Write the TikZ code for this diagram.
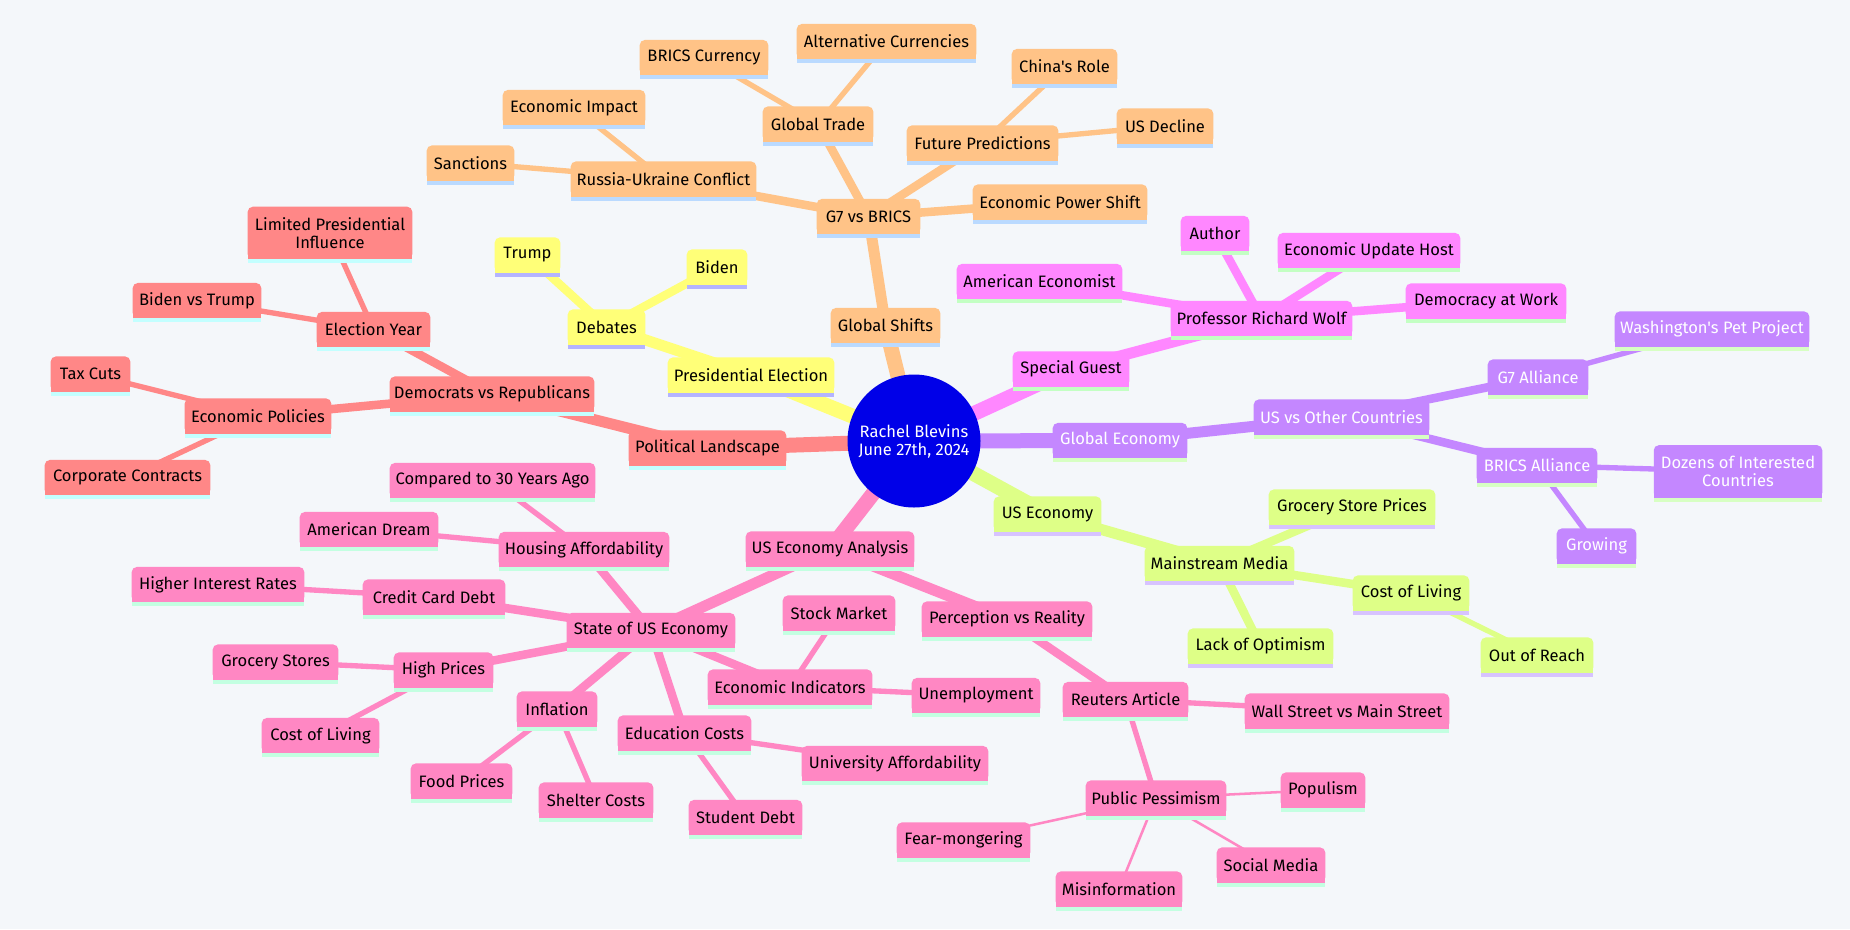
\documentclass[tikz,border=0pt]{standalone}
\usepackage{fontspec}
\setmainfont{Fira Sans}[Ligatures=TeXOff]
\definecolor{bgc}{RGB}{244,247,250}
\definecolor{Ofill}{RGB}{255,195,135}\definecolor{Oline}{RGB}{186,218,255}\colorlet{Otxt}{black}
\definecolor{Yfill}{RGB}{255,255,120}\definecolor{Yline}{RGB}{180,180,255}\colorlet{Ytxt}{black}
\definecolor{Rfill}{RGB}{255,135,135}\definecolor{Rline}{RGB}{195,255,255}\colorlet{Rtxt}{black}
\definecolor{Mfill}{RGB}{255,135,255}\definecolor{Mline}{RGB}{195,255,195}\colorlet{Mtxt}{black}
\definecolor{Pfill}{RGB}{196,135,255}\definecolor{Pline}{RGB}{215,255,195}\colorlet{Ptxt}{white}
\definecolor{Lfill}{RGB}{222,255,135}\definecolor{Lline}{RGB}{215,195,255}\colorlet{Ltxt}{black}
\definecolor{Kfill}{RGB}{255,135,195}\definecolor{Kline}{RGB}{195,255,225}\colorlet{Ktxt}{black}
\definecolor{rootc}{RGB}{0,0,232}
\pgfdeclarelayer{bglayer}\pgfdeclarelayer{edges}\pgfdeclarelayer{boxes}
\pgfsetlayers{bglayer,edges,boxes,main}
\tikzset{
  mmnode/.style={rectangle, inner sep=0pt, minimum height=25.875pt, align=center,
    font=\fontsize{12.4pt}{13.6pt}\selectfont},
  twoline/.style={minimum height=39pt},
  rootnode/.style={circle, fill=rootc, text=white, minimum size=99.75pt, inner sep=0pt,
    align=center, font=\fontsize{12.4pt}{13.6pt}\selectfont},
  eA/.style={line width=11.25pt},
  eB/.style={line width=8.25pt},
  eC/.style={line width=6.4pt},
  eD/.style={line width=4pt},
  eE/.style={line width=1.9pt},
}
% #1 opt, #2 name, #3 section, #4 L, #5 T, #6 R, #7 B, #8 text
\newcommand\mmn[8][]{%
  \node[mmnode, text=#3txt, minimum width={(#6-#4)*0.75pt}, #1] (#2) at ({(#4+#6)/2},{(#5+#7)/2-2}) {#8};
  \begin{pgfonlayer}{boxes}
    \fill[#3fill, rounded corners=3.75pt] (#2.south west) rectangle (#2.north east);
    \fill[#3fill] (#2.south west) rectangle (#2.east);
    \fill[#3line] (#2.south west) rectangle ([yshift=-3pt]#2.south east);
  \end{pgfonlayer}}
\newcommand\mme[4]{\draw[#1, #2fill] (#3.center) -- (#4.center);}
\begin{document}
\begin{tikzpicture}[x=0.75pt, y=-0.75pt]
\begin{pgfonlayer}{bglayer}
\fill[bgc] (0,0) rectangle (1850,929);
\end{pgfonlayer}
\useasboundingbox (0,0) rectangle (1850,929);

\node[rootnode] (root) at (914,441) {Rachel Blevins\\June 27th, 2024};

% orange
\mmn{gs}{O}{831}{308}{940}{347}{Global Shifts}
\mmn{g7}{O}{817}{199}{920}{238}{G7 vs BRICS}
\mmn{ruc}{O}{571}{162}{756}{200}{Russia-Ukraine Conflict}
\mmn{ei}{O}{503}{90}{645}{129}{Economic Impact}
\mmn{san}{O}{427}{146}{514}{184}{Sanctions}
\mmn{gt}{O}{763}{107}{873}{145}{Global Trade}
\mmn{bc}{O}{640}{40}{768}{79}{BRICS Currency}
\mmn{ac}{O}{797}{24}{976}{63}{Alternative Currencies}
\mmn{fp}{O}{907}{126}{1058}{164}{Future Predictions}
\mmn{cr}{O}{1012}{49}{1117}{88}{China's Role}
\mmn{usd}{O}{1117}{109}{1213}{147}{US Decline}
\mmn{eps}{O}{973}{185}{1147}{223}{Economic Power Shift}
% yellow
\mmn{pe}{Y}{668}{357}{834}{397}{Presidential Election}
\mmn{deb}{Y}{568}{310}{645}{348}{Debates}
\mmn{tr}{Y}{495}{238}{560}{276}{Trump}
\mmn{bi}{Y}{687}{250}{747}{288}{Biden}
% red
\mmn{pl}{R}{629}{431}{786}{469}{Political Landscape}
\mmn{dvr}{R}{390}{377}{594}{415}{Democrats vs Republicans}
\mmn{ey}{R}{317}{312}{430}{351}{Election Year}
\mmn[twoline]{lpi}{R}{248}{207}{412}{263}{Limited Presidential\\Influence}
\mmn{bvt}{R}{133}{283}{261}{322}{Biden vs Trump}
\mmn{ep}{R}{185}{399}{331}{437}{Economic Policies}
\mmn{tc}{R}{51}{357}{130}{395}{Tax Cuts}
\mmn{cc}{R}{45}{460}{210}{499}{Corporate Contracts}
% pink
\mmn{uea}{K}{746}{532}{914}{570}{US Economy Analysis}
\mmn{sue}{K}{567}{613}{735}{652}{State of US Economy}
\mmn{ha}{K}{499}{532}{669}{571}{Housing Affordability}
\mmn{cth}{K}{390}{463}{595}{502}{Compared to 30 Years Ago}
\mmn{ad}{K}{300}{512}{438}{551}{American Dream}
\mmn{ccd}{K}{363}{580}{505}{618}{Credit Card Debt}
\mmn{hir}{K}{132}{567}{304}{606}{Higher Interest Rates}
\mmn{hp}{K}{394}{653}{493}{691}{High Prices}
\mmn{gst}{K}{213}{645}{338}{683}{Grocery Stores}
\mmn{colk}{K}{262}{718}{379}{757}{Cost of Living}
\mmn{inf}{K}{517}{692}{597}{730}{Inflation}
\mmn{fop}{K}{411}{764}{512}{802}{Food Prices}
\mmn{shc}{K}{539}{783}{653}{821}{Shelter Costs}
\mmn{edc}{K}{618}{716}{751}{754}{Education Costs}
\mmn{uaf}{K}{802}{747}{988}{784}{University Affordability}
\mmn{sd}{K}{689}{800}{802}{839}{Student Debt}
\mmn{eind}{K}{708}{670}{872}{708}{Economic Indicators}
\mmn{sm}{K}{783}{596}{895}{634}{Stock Market}
\mmn{un}{K}{912}{678}{1040}{717}{Unemployment}
\mmn{pvr}{K}{922}{602}{1092}{640}{Perception vs Reality}
\mmn{ra}{K}{1063}{683}{1188}{720}{Reuters Article}
\mmn{ws}{K}{1245}{694}{1449}{732}{Wall Street vs Main Street}
\mmn{pp}{K}{1086}{781}{1226}{819}{Public Pessimism}
\mmn{fm}{K}{897}{823}{1030}{861}{Fear-mongering}
\mmn{mi}{K}{1056}{872}{1182}{910}{Misinformation}
\mmn{smd}{K}{1217}{848}{1325}{886}{Social Media}
\mmn{pop}{K}{1281}{773}{1365}{811}{Populism}
% lime
\mmn{use}{L}{994}{497}{1101}{535}{US Economy}
\mmn{mm}{L}{1145}{546}{1294}{585}{Mainstream Media}
\mmn{gsp}{L}{1269}{490}{1435}{528}{Grocery Store Prices}
\mmn{coll}{L}{1353}{575}{1469}{615}{Cost of Living}
\mmn{lo}{L}{1188}{629}{1333}{667}{Lack of Optimism}
\mmn{oor}{L}{1481}{638}{1593}{676}{Out of Reach}
% purple
\mmn{ge}{P}{1053}{423}{1187}{462}{Global Economy}
\mmn{uvo}{P}{1254}{400}{1429}{438}{US vs Other Countries}
\mmn{gsa}{P}{1488}{360}{1588}{398}{G7 Alliance}
\mmn{wpp}{P}{1615}{312}{1809}{350}{Washington's Pet Project}
\mmn{bra}{P}{1477}{448}{1597}{487}{BRICS Alliance}
\mmn[twoline]{doz}{P}{1654}{446}{1822}{501}{Dozens of Interested\\Countries}
\mmn{gro}{P}{1557}{529}{1636}{567}{Growing}
% magenta
\mmn{sg}{M}{1013}{352}{1129}{390}{Special Guest}
\mmn{prw}{M}{1171}{301}{1352}{340}{Professor Richard Wolf}
\mmn{ae}{M}{957}{264}{1122}{303}{American Economist}
\mmn{au}{M}{1181}{216}{1249}{255}{Author}
\mmn{euh}{M}{1278}{233}{1460}{272}{Economic Update Host}
\mmn{daw}{M}{1406}{283}{1566}{323}{Democracy at Work}

\begin{pgfonlayer}{edges}
% depth 1
\mme{eA}{O}{root}{gs}
\mme{eA}{Y}{root}{pe}
\mme{eA}{R}{root}{pl}
\mme{eA}{K}{root}{uea}
\mme{eA}{L}{root}{use}
\mme{eA}{P}{root}{ge}
\mme{eA}{M}{root}{sg}
% depth 2
\mme{eB}{O}{gs}{g7}
\mme{eB}{Y}{pe}{deb}
\mme{eB}{R}{pl}{dvr}
\mme{eB}{K}{uea}{sue}
\mme{eB}{K}{uea}{pvr}
\mme{eB}{L}{use}{mm}
\mme{eB}{P}{ge}{uvo}
\mme{eB}{M}{sg}{prw}
% depth 3
\foreach \b in {ruc,gt,fp,eps} {\mme{eC}{O}{g7}{\b}}
\foreach \b in {tr,bi} {\mme{eC}{Y}{deb}{\b}}
\foreach \b in {ey,ep} {\mme{eC}{R}{dvr}{\b}}
\foreach \b in {ha,ccd,hp,inf,edc,eind} {\mme{eC}{K}{sue}{\b}}
\mme{eC}{K}{pvr}{ra}
\foreach \b in {gsp,coll,lo} {\mme{eC}{L}{mm}{\b}}
\foreach \b in {gsa,bra} {\mme{eC}{P}{uvo}{\b}}
\foreach \b in {ae,au,euh,daw} {\mme{eC}{M}{prw}{\b}}
% depth 4
\foreach \a/\b in {ruc/ei,ruc/san,gt/bc,gt/ac,fp/cr,fp/usd} {\mme{eD}{O}{\a}{\b}}
\foreach \a/\b in {ey/lpi,ey/bvt,ep/tc,ep/cc} {\mme{eD}{R}{\a}{\b}}
\foreach \a/\b in {ha/cth,ha/ad,ccd/hir,hp/gst,hp/colk,inf/fop,inf/shc,edc/uaf,edc/sd,eind/sm,eind/un,ra/ws,ra/pp} {\mme{eD}{K}{\a}{\b}}
\mme{eD}{L}{coll}{oor}
\foreach \a/\b in {gsa/wpp,bra/doz,bra/gro} {\mme{eD}{P}{\a}{\b}}
% depth 5
\foreach \b in {fm,mi,smd,pop} {\mme{eE}{K}{pp}{\b}}
\end{pgfonlayer}
\end{tikzpicture}
\end{document}
